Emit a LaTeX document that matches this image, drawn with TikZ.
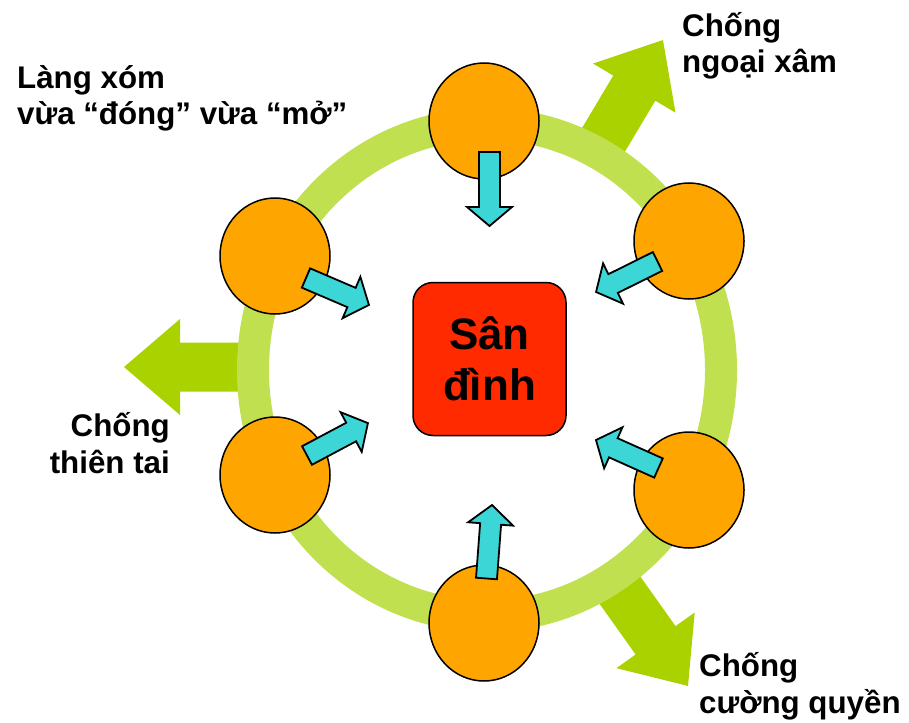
\documentclass[tikz,border=0pt]{standalone}
\usepackage{fontspec}
\setmainfont{Liberation Sans}
\usetikzlibrary{shapes.geometric}
\definecolor{ringgreen}{HTML}{C0E050}
\definecolor{arrowgreen}{HTML}{AAD200}
\definecolor{bubbleorange}{HTML}{FFA500}
\definecolor{tealfill}{HTML}{3CD6D6}
\definecolor{hubred}{HTML}{FF2A00}
\begin{document}
\begin{tikzpicture}[x=1pt,y=-1pt,
  ring/.style={draw=ringgreen, line width=32pt},
  bubble/.style={ellipse, draw=black, line width=1.5pt, fill=bubbleorange,
    minimum width=110pt, minimum height=116pt, inner sep=0pt},
  hub/.style={rectangle, rounded corners=20pt, draw=black, line width=1.5pt,
    fill=hubred, minimum width=153pt, minimum height=153pt, align=center,
    font=\fontsize{44}{51}\selectfont\bfseries},
  sidetext/.style={inner sep=0pt, font=\fontsize{31.3}{36.5}\selectfont\bfseries},
  inarrow/.style={draw=black, line width=1.8pt, fill=tealfill},
  outarrow/.style={fill=arrowgreen},
  inward/.pic={\path[inarrow] (0,-10.5) -- ({#1-19},-10.5) -- ({#1-19},-22.5)
      -- (#1,0) -- ({#1-19},22.5) -- ({#1-19},10.5) -- (0,10.5) -- cycle;},
  outward/.pic={\path[outarrow] (0,-24.5) -- ({#1-56},-24.5) -- ({#1-56},-48)
      -- (#1,0) -- ({#1-56},48) -- ({#1-56},24.5) -- (0,24.5) -- cycle;}
]
\fill[white] (0,0) rectangle (909,722);
\useasboundingbox (0,0) rectangle (909,722);

% outward arrows, partly hidden under the ring
\pic[rotate=180]  at (249,367)     {outward=125};
\pic[rotate=59.2] at (596.4,151.7) {outward=130};
\pic[rotate=-54.6] at (612.7,580)  {outward=130};

% the village ring
\draw[ring] (487,370) ellipse [x radius=234pt, y radius=246pt];

% households on the ring
\node[bubble] (n1) at (484,121) {};
\node[bubble] (n2) at (689,241) {};
\node[bubble] (n3) at (689,490) {};
\node[bubble] (n4) at (484,623) {};
\node[bubble] (n5) at (275,475) {};
\node[bubble] (n6) at (275,256) {};

% arrows towards the communal yard
\pic[rotate=-90]   at (489.5,152)   {inward=74};
\pic[rotate=-23.2] at (306,278)     {inward=68.5};
\pic[rotate=28]    at (307,455.5)   {inward=69};
\pic[rotate=206.4] at (657.5,261.5) {inward=68.6};
\pic[rotate=155.9] at (658.5,468)   {inward=68.5};
\pic[rotate=85.7]  at (486.5,578.5) {inward=73.7};

% communal yard
\node[hub] (hub) at (489.5,359) {Sân\\đình};

% captions (anchored on the baseline of their last line)
\node[sidetext, anchor=base west, align=left] (village) at (17,125)
  {Làng xóm\\vừa “đóng” vừa “mở”};
\node[sidetext, anchor=base west, align=left] (invader) at (682,73)
  {Chống\\ngoại xâm};
\node[sidetext, anchor=base east, align=right] (disaster) at (170,473)
  {Chống\\thiên tai};
\node[sidetext, anchor=base west, align=left] (tyranny) at (699,713)
  {Chống\\cường quyền};
\end{tikzpicture}
\end{document}
